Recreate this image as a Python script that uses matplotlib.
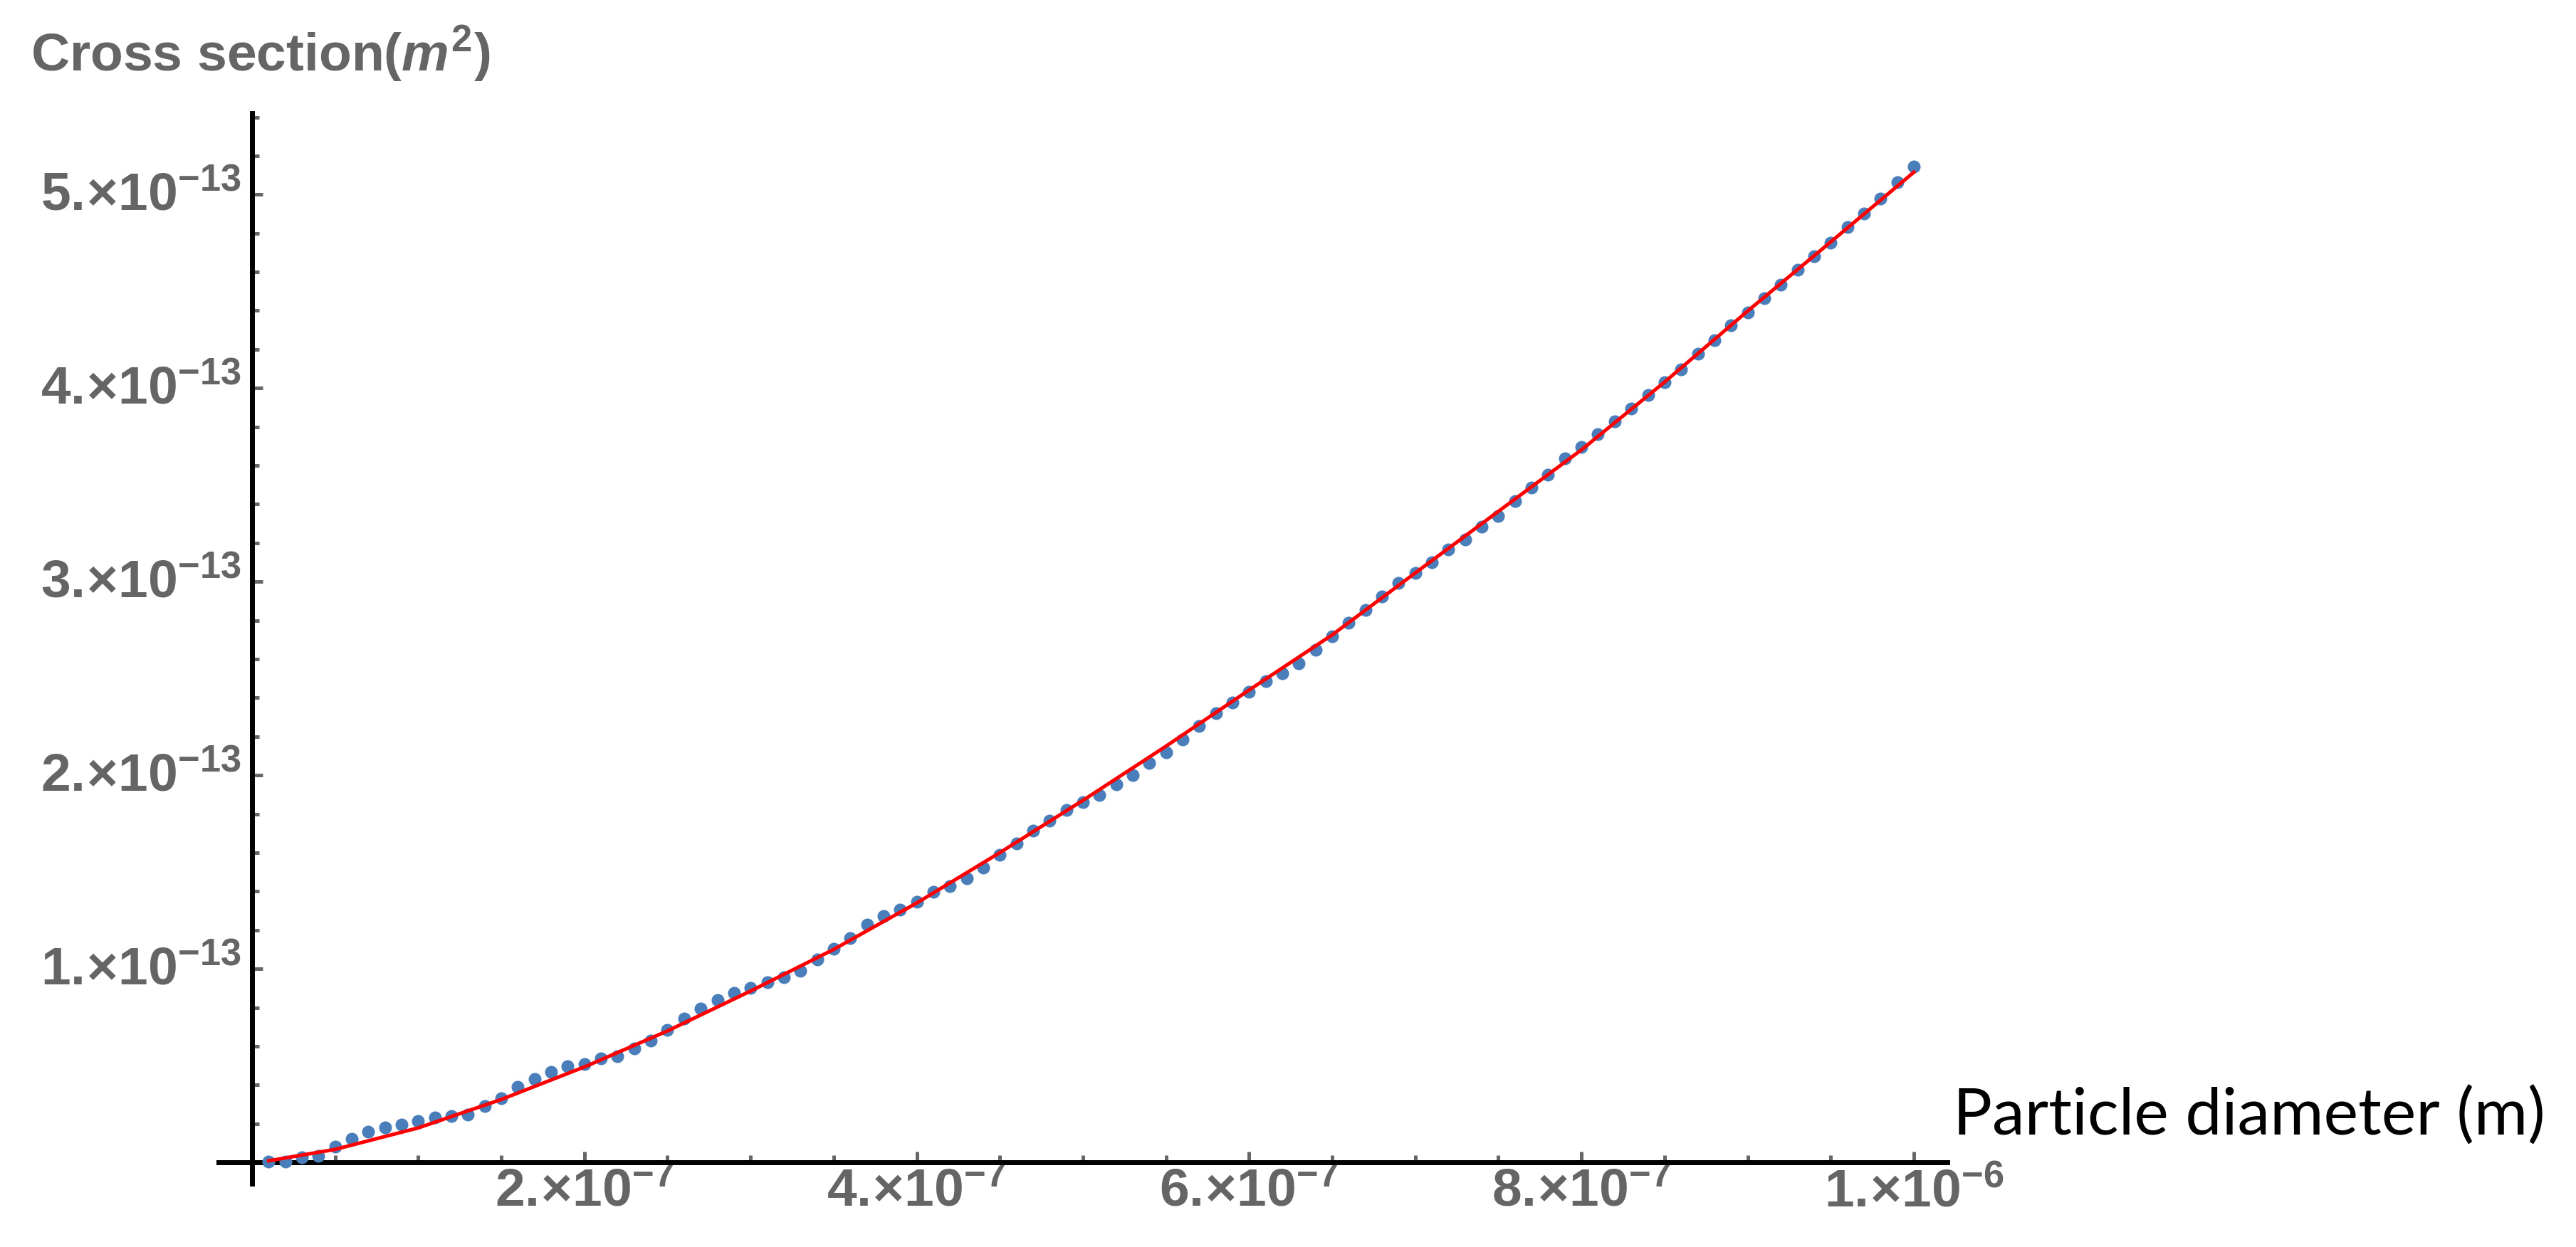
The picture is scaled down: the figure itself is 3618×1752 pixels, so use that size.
import matplotlib
matplotlib.use('Agg')
import matplotlib.pyplot as plt
from matplotlib.transforms import ScaledTranslation

# particle diameter (nm) and computed cross section (units of 1e-13 m^2)
diameter_nm = [
    10, 20, 30, 40, 50, 60, 70, 80, 90, 100,
    110, 120, 130, 140, 150, 160, 170, 180, 190, 200,
    210, 220, 230, 240, 250, 260, 270, 280, 290, 300,
    310, 320, 330, 340, 350, 360, 370, 380, 390, 400,
    410, 420, 430, 440, 450, 460, 470, 480, 490, 500,
    510, 520, 530, 540, 550, 560, 570, 580, 590, 600,
    610, 620, 630, 640, 650, 660, 670, 680, 690, 700,
    710, 720, 730, 740, 750, 760, 770, 780, 790, 800,
    810, 820, 830, 840, 850, 860, 870, 880, 890, 900,
    910, 920, 930, 940, 950, 960, 970, 980, 990, 1000,
]
cross_e13 = [
    0.003, 0.003, 0.025, 0.035, 0.080, 0.122, 0.160, 0.181, 0.197, 0.213,
    0.231, 0.240, 0.248, 0.292, 0.333, 0.390, 0.430, 0.469, 0.497, 0.506,
    0.536, 0.550, 0.587, 0.630, 0.685, 0.743, 0.795, 0.838, 0.875, 0.900,
    0.930, 0.955, 0.991, 1.049, 1.102, 1.157, 1.230, 1.271, 1.304, 1.347,
    1.396, 1.426, 1.469, 1.521, 1.589, 1.647, 1.714, 1.766, 1.819, 1.861,
    1.898, 1.953, 1.999, 2.064, 2.119, 2.186, 2.254, 2.321, 2.376, 2.431,
    2.486, 2.526, 2.578, 2.648, 2.719, 2.787, 2.854, 2.922, 2.995, 3.044,
    3.099, 3.167, 3.216, 3.283, 3.338, 3.418, 3.485, 3.553, 3.638, 3.694,
    3.761, 3.828, 3.896, 3.963, 4.031, 4.098, 4.178, 4.249, 4.325, 4.392,
    4.466, 4.533, 4.613, 4.680, 4.751, 4.833, 4.901, 4.980, 5.063, 5.143,
]

# fitted curve
fit_nm = [10, 50, 100, 150, 200, 250, 300, 350, 400, 450, 500,
          550, 600, 650, 700, 750, 800, 850, 900, 950, 1000]
fit_e13 = [0.008, 0.067, 0.178, 0.325, 0.493, 0.679, 0.885, 1.10, 1.34, 1.60, 1.87,
           2.15, 2.44, 2.725, 3.045, 3.363, 3.681, 4.031, 4.398, 4.755, 5.115]

xtick_vals = [2e-7, 4e-7, 6e-7, 8e-7, 1e-6]
xtick_labels = [r'$\mathregular{2.\!×10^{-7}}$', r'$\mathregular{4.\!×10^{-7}}$',
                r'$\mathregular{6.\!×10^{-7}}$', r'$\mathregular{8.\!×10^{-7}}$',
                r'$\mathregular{1.\!×10^{-6}}$']
ytick_vals = [1e-13, 2e-13, 3e-13, 4e-13, 5e-13]
ytick_labels = [r'$\mathregular{1.\!×10^{-13}}$', r'$\mathregular{2.\!×10^{-13}}$',
                r'$\mathregular{3.\!×10^{-13}}$', r'$\mathregular{4.\!×10^{-13}}$',
                r'$\mathregular{5.\!×10^{-13}}$']

plt.rcParams['font.family'] = ['Liberation Sans', 'DejaVu Sans']
plt.rcParams['font.weight'] = 'bold'
plt.rcParams['mathtext.fontset'] = 'custom'
plt.rcParams['mathtext.rm'] = 'Liberation Sans:bold'
plt.rcParams['mathtext.it'] = 'Liberation Sans:italic:bold'
plt.rcParams['mathtext.bf'] = 'Liberation Sans:bold'

gray = '#656565'

fig = plt.figure(figsize=(36.18, 17.52), dpi=100)
ax = fig.add_axes([0.08494, 0.0508, 0.6709, 0.8584])

xs = [d * 1e-9 for d in diameter_nm]
ys = [c * 1e-13 for c in cross_e13]
fx = [d * 1e-9 for d in fit_nm]
fy = [c * 1e-13 for c in fit_e13]

ax.plot(xs, ys, 'o', ms=13, color='#4A7EBB', mec='none', zorder=4, clip_on=False)
ax.plot(fx, fy, color='red', lw=3.6, zorder=5, clip_on=False)

ax.set_xlim(-2e-8, 1.02e-6)
ax.set_ylim(-1.1e-14, 5.42e-13)

for side in ['top', 'right']:
    ax.spines[side].set_visible(False)
ax.spines['left'].set_position(('data', 0))
ax.spines['bottom'].set_position(('data', 0))
for side in ['left', 'bottom']:
    ax.spines[side].set_linewidth(5)
    ax.spines[side].set_color('black')

ax.set_xticks(xtick_vals, xtick_labels)
ax.set_xticks([k * 5e-8 for k in range(1, 21)], minor=True)
ax.set_yticks(ytick_vals, ytick_labels)
ax.set_yticks([k * 2e-14 for k in range(1, 28)], minor=True)

ax.tick_params(which='both', direction='in', color='#666666', width=3.6,
               labelsize=54, labelcolor=gray)
ax.tick_params(which='major', length=11)
ax.tick_params(which='minor', length=7.5)
ax.tick_params(axis='x', pad=5)
ax.tick_params(axis='y', pad=11)

# put the baseline of "n.x10" a little under the tick, like the original
shift = ScaledTranslation(0, -0.22, fig.dpi_scale_trans)
for lab in ax.get_yticklabels():
    lab.set_va('baseline')
    lab.set_transform(lab.get_transform() + shift)

fig.text(0.0119, 0.943, r'Cross section$\mathregular{(}m^{2}\mathregular{)}$',
         fontsize=54, color=gray, fontweight='bold', va='baseline', ha='left')
fig.text(0.7582, 0.0896, 'Particle diameter (m)', family=['Lato', 'DejaVu Sans'],
         fontweight='normal', fontsize=66, color='black', va='baseline', ha='left')

fig.savefig('out.png', dpi=100)
